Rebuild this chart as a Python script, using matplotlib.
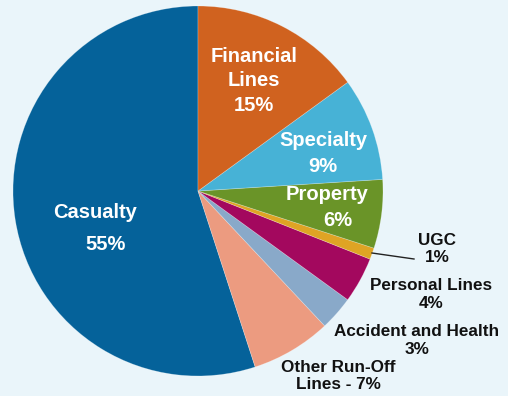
import matplotlib
matplotlib.use("Agg")
import matplotlib.pyplot as plt

plt.rcParams['font.family'] = ['Liberation Sans', 'DejaVu Sans']

# segments, counter-clockwise from 12 o'clock
segments = ['Casualty', 'Other Run-Off Lines', 'Accident and Health',
            'Personal Lines', 'UGC', 'Property', 'Specialty', 'Financial Lines']
shares = [55, 7, 3, 4, 1, 6, 9, 15]
colors = ['#05629a', '#ec9b80', '#89a9c9', '#a3085e', '#dfa424',
          '#6a9428', '#47b2d6', '#d0621f']

BG = '#eaf5fa'
W, H = 508, 396

fig = plt.figure(figsize=(W / 100, H / 100), dpi=100, facecolor=BG)
ax = fig.add_axes([0, 0, 1, 1])
ax.set_facecolor(BG)

# pixel-style coords: y measured from top
def py(y):
    return H - y

ax.pie(shares, colors=colors, startangle=90, counterclock=True,
       center=(198, py(191)), radius=185,
       wedgeprops=dict(linewidth=0.5, edgecolor=(1, 1, 1, 0.3)))
ax.set_xlim(0, W)
ax.set_ylim(0, H)
ax.set_aspect('equal')
ax.axis('off')

pct = dict(zip(segments, shares))
white = dict(color='white', fontsize=14.5, fontweight='bold', ha='center', va='center')
dark = dict(color='#111111', fontsize=12.3, fontweight='bold', ha='center', va='center')

# labels inside the large wedges
ax.text(95, py(212), 'Casualty', **white)
ax.text(106, py(245), f"{pct['Casualty']}%", **white)
ax.text(254, py(81), f"Financial\nLines\n{pct['Financial Lines']}%",
        linespacing=1.35, **white)
ax.text(323, py(140), 'Specialty', **white)
ax.text(323, py(167), f"{pct['Specialty']}%", **white)
ax.text(327, py(195), 'Property', **white)
ax.text(338, py(221), f"{pct['Property']}%", **white)

# labels outside the small wedges
ax.text(437, py(249), f"UGC\n{pct['UGC']}%", linespacing=1.15, **dark)
ax.plot([372, 414], [py(253), py(259)], color='#222222', lw=1)
ax.text(431, py(294), f"Personal Lines\n{pct['Personal Lines']}%",
        linespacing=1.25, **dark)
ax.text(417, py(340), f"Accident and Health\n{pct['Accident and Health']}%",
        linespacing=1.25, **dark)
ax.text(338, py(376), f"Other Run-Off\nLines - {pct['Other Run-Off Lines']}%",
        linespacing=1.15, **dark)

fig.savefig('out.png', dpi=100, facecolor=BG)
